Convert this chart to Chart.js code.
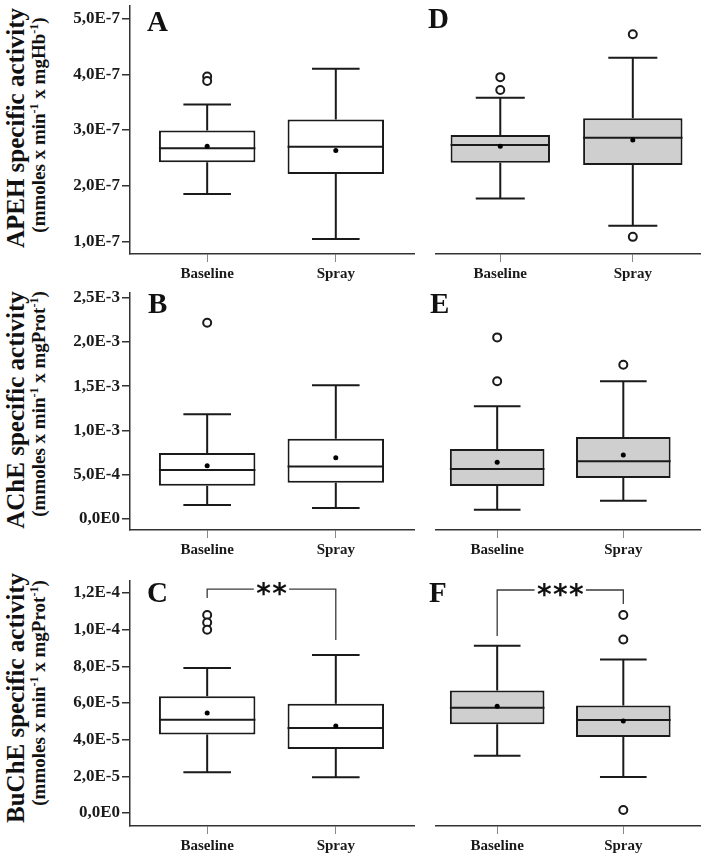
<!DOCTYPE html>
<html>
<head>
<meta charset="utf-8">
<script src="https://cdn.jsdelivr.net/npm/chart.js@4.4.1/dist/chart.umd.min.js"></script>
<style>
    html, body { margin: 0; padding: 0; background: #fff; }
    #page {
        position: relative; width: 706px; height: 853px; overflow: hidden;
        font-family: "Liberation Serif", "Times New Roman", serif; font-weight: bold; color: #111;
    }
    .panel { position: absolute; }
    .ytitle {
        position: absolute; white-space: nowrap; line-height: 1;
        transform: translate(-50%, -50%) rotate(-90deg);
    }
    .ytitle.main { font-size: 25px; }
    .ytitle.sub { font-size: 19px; }
    .ytitle sup { font-size: 12px; vertical-align: top; position: relative; top: -1px; }
    .letter { position: absolute; font-size: 29px; line-height: 29px; }
</style>
</head>
<body>
<div id="page">
    <div class="panel" style="left:60px;top:0;width:360px;height:285px"><canvas id="cA"></canvas></div>
    <div class="panel" style="left:430px;top:0;width:276px;height:285px"><canvas id="cD"></canvas></div>
    <div class="panel" style="left:60px;top:285px;width:360px;height:280px"><canvas id="cB"></canvas></div>
    <div class="panel" style="left:430px;top:285px;width:276px;height:280px"><canvas id="cE"></canvas></div>
    <div class="panel" style="left:60px;top:565px;width:360px;height:288px"><canvas id="cC"></canvas></div>
    <div class="panel" style="left:430px;top:565px;width:276px;height:288px"><canvas id="cF"></canvas></div>

    <div class="ytitle main" style="left:15px;top:128px">APEH specific activity</div>
    <div class="ytitle sub" style="left:38px;top:125px">(mmoles x min<sup>-1</sup> x mgHb<sup>-1</sup>)</div>
    <div class="ytitle main" style="left:15px;top:410px">AChE specific activity</div>
    <div class="ytitle sub" style="left:38px;top:404px">(mmoles x min<sup>-1</sup> x mgProt<sup>-1</sup>)</div>
    <div class="ytitle main" style="left:15px;top:698px">BuChE specific activity</div>
    <div class="ytitle sub" style="left:38px;top:693px">(mmoles x min<sup>-1</sup> x mgProt<sup>-1</sup>)</div>

    <div class="letter" style="left:147px;top:7px">A</div>
    <div class="letter" style="left:428px;top:4px">D</div>
    <div class="letter" style="left:148px;top:289px">B</div>
    <div class="letter" style="left:430px;top:289px">E</div>
    <div class="letter" style="left:147px;top:578px">C</div>
    <div class="letter" style="left:429px;top:578px">F</div>
</div>

<script>
// groups on the x axis
const groups = ['Baseline', 'Spray'];

// box stats per group: [lower whisker, Q1, median, Q3, upper whisker]

// APEH (mmoles x min-1 x mgHb-1)
const apehTicks = [1e-7, 2e-7, 3e-7, 4e-7, 5e-7];
const apehTickLabels = ['1,0E-7', '2,0E-7', '3,0E-7', '4,0E-7', '5,0E-7'];
const apehBoxA = [[1.85e-7, 2.42e-7, 2.67e-7, 2.99e-7, 3.46e-7], [1.04e-7, 2.21e-7, 2.70e-7, 3.19e-7, 4.10e-7]];
const apehMeanA = [2.71e-7, 2.63e-7];
const apehOutA = [[3.96e-7, 3.88e-7], []];
const apehBoxD = [[1.77e-7, 2.41e-7, 2.73e-7, 2.91e-7, 3.58e-7], [1.28e-7, 2.37e-7, 2.86e-7, 3.21e-7, 4.30e-7]];
const apehMeanD = [2.71e-7, 2.82e-7];
const apehOutD = [[3.95e-7, 3.72e-7], [4.72e-7, 1.08e-7]];

// AChE (mmoles x min-1 x mgProt-1)
const acheTicks = [0, 5e-4, 1e-3, 1.5e-3, 2e-3, 2.5e-3];
const acheTickLabels = ['0,0E0', '5,0E-4', '1,0E-3', '1,5E-3', '2,0E-3', '2,5E-3'];
const acheBoxB = [[1.58e-4, 3.76e-4, 5.53e-4, 7.45e-4, 1.182e-3], [1.24e-4, 4.10e-4, 5.94e-4, 9.06e-4, 1.509e-3]];
const acheMeanB = [6.00e-4, 6.92e-4];
const acheOutB = [[2.216e-3], []];
const acheBoxE = [[1.05e-4, 3.72e-4, 5.64e-4, 7.90e-4, 1.272e-3], [2.07e-4, 4.63e-4, 6.51e-4, 9.25e-4, 1.554e-3]];
const acheMeanE = [6.40e-4, 7.22e-4];
const acheOutE = [[2.05e-3, 1.554e-3], [1.742e-3]];

// BuChE (mmoles x min-1 x mgProt-1)
const buchTicks = [0, 2e-5, 4e-5, 6e-5, 8e-5, 1e-4, 1.2e-4];
const buchTickLabels = ['0,0E0', '2,0E-5', '4,0E-5', '6,0E-5', '8,0E-5', '1,0E-4', '1,2E-4'];
const buchBoxC = [[2.22e-5, 4.29e-5, 5.09e-5, 6.37e-5, 7.91e-5], [1.95e-5, 3.49e-5, 4.64e-5, 5.96e-5, 8.62e-5]];
const buchMeanC = [5.46e-5, 4.75e-5];
const buchOutC = [[1.08e-4, 1.04e-4, 1.0e-4], []];
const buchBoxF = [[3.13e-5, 4.84e-5, 5.75e-5, 6.69e-5, 9.13e-5], [1.96e-5, 4.15e-5, 5.07e-5, 5.87e-5, 8.38e-5]];
const buchMeanF = [5.82e-5, 5.02e-5];
const buchOutF = [[], [1.08e-4, 9.47e-5, 1.6e-6]];

// significance brackets: [top, left end, right end]
const sigC = { levels: [1.222e-4, 1.173e-4, 9.44e-5], label: '**' };
const sigF = { levels: [1.217e-4, 9.66e-5, 1.14e-4], label: '***' };

const LINE = '#1a1a1a';
const GRAY = '#cfcfcf';
const CAP = 0.185;       // half cap width, in group units
const FAMILY = '"Liberation Serif", "Times New Roman", serif';

const panels = [
    { id: 'cA', box: apehBoxA, mean: apehMeanA, out: apehOutA, ticks: apehTicks, labels: apehTickLabels,
      yMin: 0.772e-7, yMax: 5.228e-7, xMin: -0.6, xMax: 1.608, left: true, fill: '#fff', padTop: 0, xH: 31 },
    { id: 'cD', box: apehBoxD, mean: apehMeanD, out: apehOutD, ticks: apehTicks, labels: apehTickLabels,
      yMin: 0.772e-7, yMax: 5.228e-7, xMin: -0.485, xMax: 1.507, left: false, fill: GRAY, padTop: 0, xH: 31 },
    { id: 'cB', box: acheBoxB, mean: acheMeanB, out: acheOutB, ticks: acheTicks, labels: acheTickLabels,
      yMin: -1.24e-4, yMax: 2.551e-3, xMin: -0.6, xMax: 1.608, left: true, fill: '#fff', padTop: 8, xH: 35 },
    { id: 'cE', box: acheBoxE, mean: acheMeanE, out: acheOutE, ticks: acheTicks, labels: acheTickLabels,
      yMin: -1.24e-4, yMax: 2.551e-3, xMin: -0.485, xMax: 1.608, left: false, fill: GRAY, padTop: 8, xH: 35 },
    { id: 'cC', box: buchBoxC, mean: buchMeanC, out: buchOutC, ticks: buchTicks, labels: buchTickLabels,
      yMin: -0.709e-5, yMax: 1.266e-4, xMin: -0.6, xMax: 1.608, left: true, fill: '#fff', padTop: 16, xH: 27, sig: sigC },
    { id: 'cF', box: buchBoxF, mean: buchMeanF, out: buchOutF, ticks: buchTicks, labels: buchTickLabels,
      yMin: -0.709e-5, yMax: 1.266e-4, xMin: -0.485, xMax: 1.608, left: false, fill: GRAY, padTop: 16, xH: 27, sig: sigF }
];

// whiskers, caps, medians and significance bracket, drawn from the chart scales
function boxPlugin(p) {
    return {
        id: 'box_' + p.id,
        afterDatasetDraw(chart, args) {
            if (args.meta.type !== 'bar') return;
            const { ctx } = chart;
            const x = chart.scales.x, y = chart.scales.y;
            ctx.save();
            ctx.strokeStyle = LINE;
            ctx.lineWidth = 2;
            p.box.forEach((b, i) => {
                const el = args.meta.data[i];
                const { x: cx, width } = el.getProps(['x', 'width'], true);
                const capL = x.getPixelForValue(i - CAP), capR = x.getPixelForValue(i + CAP);
                const [lo, q1, med, q3, hi] = b.map(v => y.getPixelForValue(v));
                ctx.beginPath();
                ctx.moveTo(cx, q3); ctx.lineTo(cx, hi);
                ctx.moveTo(cx, q1); ctx.lineTo(cx, lo);
                ctx.moveTo(capL, hi); ctx.lineTo(capR, hi);
                ctx.moveTo(capL, lo); ctx.lineTo(capR, lo);
                ctx.moveTo(cx - width / 2, med); ctx.lineTo(cx + width / 2, med);
                ctx.stroke();
            });
            ctx.restore();
        },
        afterDraw(chart) {
            if (!p.sig) return;
            const { ctx } = chart;
            const x = chart.scales.x, y = chart.scales.y;
            const [top, endL, endR] = p.sig.levels;
            const xl = x.getPixelForValue(0), xr = x.getPixelForValue(1);
            const yt = y.getPixelForValue(top);
            const mid = (xl + xr) / 2;
            const n = p.sig.label.length, step = 16;
            ctx.save();
            ctx.font = 'bold 28px "DejaVu Sans"';
            ctx.textAlign = 'center';
            const m = ctx.measureText('*');
            const halfSpan = (n - 1) / 2 * step + m.actualBoundingBoxRight;
            ctx.strokeStyle = '#3a3a3a';
            ctx.lineWidth = 1.3;
            ctx.beginPath();
            ctx.moveTo(xl, y.getPixelForValue(endL)); ctx.lineTo(xl, yt); ctx.lineTo(mid - halfSpan - 2, yt);
            ctx.moveTo(mid + halfSpan + 2, yt); ctx.lineTo(xr, yt); ctx.lineTo(xr, y.getPixelForValue(endR));
            ctx.stroke();
            ctx.fillStyle = '#111';
            const base = yt + (m.actualBoundingBoxAscent - m.actualBoundingBoxDescent) / 2;
            for (let k = 0; k < n; k++) {
                ctx.fillText('*', mid + (k - (n - 1) / 2) * step, base);
            }
            ctx.restore();
        }
    };
}

function makeChart(p) {
    const datasets = [
        {
            type: 'bar', order: 2,
            data: p.box.map((b, i) => ({ x: i, y: [b[1], b[3]] })),
            backgroundColor: p.fill, borderColor: LINE, borderWidth: 2, borderSkipped: false,
            barPercentage: 0.75, categoryPercentage: 1
        },
        {
            type: 'scatter', order: 1,
            data: p.out.flatMap((vals, i) => vals.map(v => ({ x: i, y: v }))),
            pointRadius: 4, pointBorderWidth: 2, pointBackgroundColor: '#fff', pointBorderColor: LINE
        },
        {
            type: 'scatter', order: 0,
            data: p.mean.map((v, i) => ({ x: i, y: v })),
            pointRadius: 2.5, pointBorderWidth: 0, pointBackgroundColor: '#000'
        }
    ];

    return new Chart(document.getElementById(p.id), {
        type: 'bar',
        data: { datasets },
        options: {
            responsive: true,
            maintainAspectRatio: false,
            animation: false,
            events: [],
            layout: { padding: { top: p.padTop, bottom: 0, left: p.left ? 0 : 3, right: p.left ? 3 : 2 } },
            plugins: { legend: { display: false }, tooltip: { enabled: false } },
            scales: {
                x: {
                    type: 'linear', min: p.xMin, max: p.xMax, offset: false,
                    afterBuildTicks: s => { s.ticks = groups.map((g, i) => ({ value: i })); },
                    afterFit: s => { s.height = p.xH; s.paddingLeft = 0; s.paddingRight = 0; },
                    grid: { offset: false, drawOnChartArea: false, drawTicks: true, tickLength: 8, color: '#888', lineWidth: 1 },
                    border: { display: true, color: '#333', width: 1.5 },
                    ticks: { callback: (v, i) => groups[i], font: { family: FAMILY, weight: 'bold', size: 15 },
                             color: '#1a1a1a', padding: 3, maxRotation: 0, autoSkip: false }
                },
                y: {
                    type: 'linear', display: p.left, min: p.yMin, max: p.yMax, beginAtZero: false,
                    afterBuildTicks: s => { s.ticks = p.ticks.map(v => ({ value: v })); },
                    afterFit: s => { s.width = p.left ? 70 : 0; s.paddingTop = 0; s.paddingBottom = 0; },
                    grid: { drawOnChartArea: false, drawTicks: true, tickLength: 8, color: '#333', lineWidth: 1.5 },
                    border: { display: true, color: '#333', width: 1.5 },
                    ticks: { callback: (v, i) => p.labels[i], font: { family: FAMILY, weight: 'bold', size: 17 },
                             color: '#1a1a1a', padding: 2, autoSkip: false }
                }
            }
        },
        plugins: [boxPlugin(p)]
    });
}

panels.forEach(makeChart);
</script>
</body>
</html>
